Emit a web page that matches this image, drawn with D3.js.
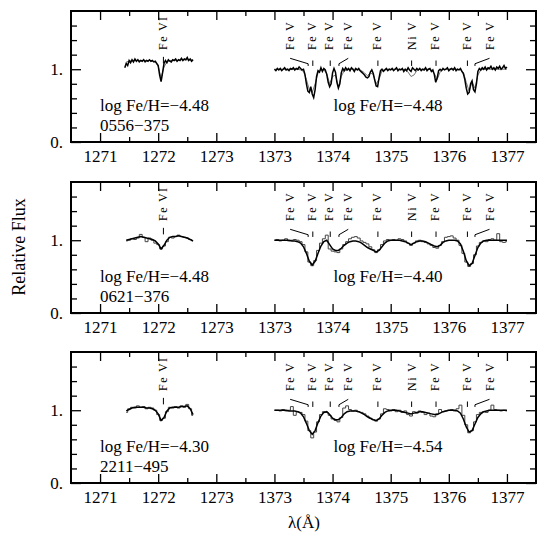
<!DOCTYPE html>
<html>
<head>
<meta charset="utf-8">
<script src="https://cdn.jsdelivr.net/npm/d3@7"></script>
<style>
  body { margin: 0; background: #fff; }
  svg text { font-family: "Liberation Serif", "Times New Roman", serif; fill: #000; }
</style>
</head>
<body>
<svg width="537" height="533"></svg>
<script>
const svg = d3.select("svg");

// ---- data ----
const stars = ["0556\u2212375", "0621\u2212376", "2211\u2212495"];
const abundLeft = ["\u22124.48", "\u22124.48", "\u22124.30"];
const abundRight = ["\u22124.48", "\u22124.40", "\u22124.54"];

const tickLabels = ["1271", "1272", "1273", "1373", "1374", "1375", "1376", "1377"];

// line identifications (wavelength of line, where its label sits, ion)
const lineLam = [1373.58, 1373.66, 1373.96, 1374.11, 1374.78, 1375.36, 1375.78, 1376.32, 1376.45, 1272.09];
const labelLam = [1373.27, 1373.65, 1373.94, 1374.27, 1374.77, 1375.36, 1375.77, 1376.32, 1376.70, 1272.09];
const lineIon = ["Fe V", "Fe V", "Fe V", "Fe V", "Fe V", "Ni V", "Fe V", "Fe V", "Fe V", "Fe VI"];

// wavelength grids
const lamLeftFine = d3.range(48).map(i => 1271.425 + i * 0.025);
const lamLeft = d3.range(24).map(i => 1271.45 + i * 0.05);
const lamRightFine = d3.range(161).map(i => 1373 + i * 0.025);
const lamRight = d3.range(81).map(i => 1373 + i * 0.05);

// 0556-375
const obs1Left = [1.02,1.08,1.05,1.12,1.09,1.13,1.10,1.14,1.11,1.13,1.10,1.12,1.11,1.13,1.10,1.12,1.11,1.13,1.11,1.12,1.10,1.11,1.08,
  1.05,0.92,0.83,0.95,1.08,1.12,1.09,1.13,1.11,1.10,1.13,1.12,1.14,1.11,1.13,1.12,1.15,1.12,1.14,1.13,1.16,1.12,1.14,1.11,1.13];
const mod1Left = [1.10,1.11,1.12,1.12,1.12,1.12,1.12,1.12,1.12,1.11,1.10,1.04,0.88,1.03,1.10,1.12,1.12,1.12,1.12,1.13,1.13,1.13,1.13,1.13];
const obs1Right = [
  1.00,0.98,1.01,0.99,1.01,0.98,1.00,1.02,0.99,1.00,0.98,1.01,1.00,1.02,0.99,1.01,1.00,1.03,1.01,0.99,
  1.00,0.93,0.80,0.70,0.68,0.76,0.66,0.61,0.72,0.90,0.98,0.96,1.02,0.97,1.01,0.99,0.93,0.82,0.76,0.80,
  0.95,1.01,0.96,0.82,0.74,0.80,0.95,1.01,0.98,1.02,0.99,1.01,0.98,1.02,1.00,0.97,1.01,0.99,1.01,0.98,
  0.96,0.94,0.92,0.89,0.88,0.90,0.96,0.99,0.94,0.85,0.77,0.76,0.88,0.98,1.00,0.97,0.99,1.01,0.98,1.00,
  0.99,1.01,0.98,1.00,1.02,0.98,1.00,0.99,1.01,0.97,1.00,0.98,1.02,0.99,0.97,1.02,1.00,0.98,1.01,0.99,
  1.01,0.98,1.00,0.99,1.02,0.98,1.00,1.01,0.97,0.99,0.93,0.82,0.88,0.98,1.00,0.98,1.01,0.99,1.00,1.02,
  0.98,1.00,1.01,0.99,1.02,0.98,1.00,0.99,1.01,0.97,0.94,0.86,0.74,0.66,0.68,0.80,0.84,0.72,0.69,0.80,
  0.97,1.01,0.99,1.02,1.00,1.03,0.99,1.02,1.01,1.04,1.00,1.02,0.99,1.03,1.01,1.04,1.00,1.02,1.05,1.01,1.03];
const mod1Right = [
  1.00,1.00,1.00,1.00,1.00,1.00,1.00,1.00,1.00,0.99,0.97,0.86,0.72,0.68,0.80,0.95,0.99,0.99,0.94,0.80,
  0.90,0.92,0.76,0.90,0.98,0.99,1.00,1.00,1.00,0.99,0.98,0.95,0.91,0.95,0.93,0.80,0.86,0.98,1.00,1.00,
  1.00,1.00,1.00,1.00,1.00,0.99,0.96,0.90,0.92,0.98,1.00,1.00,1.00,1.00,0.99,0.94,0.86,0.96,1.00,1.00,
  1.00,1.00,1.00,1.00,0.99,0.96,0.82,0.70,0.82,0.74,0.92,0.99,1.00,1.00,1.00,1.00,1.00,1.00,1.00,1.00,1.00];

// 0621-376
const obs2Left = [0.99,1.00,1.02,1.01,1.03,1.08,1.04,0.98,1.03,1.00,0.96,0.94,0.88,0.92,0.98,1.04,1.03,1.05,1.07,1.05,1.04,1.03,1.01,0.99];
const mod2Left = [1.00,1.01,1.02,1.03,1.04,1.05,1.04,1.03,1.02,1.01,0.99,0.95,0.88,0.93,1.00,1.04,1.05,1.05,1.06,1.05,1.04,1.03,1.01,0.99];
const obs2Right = [
  1.00,1.01,0.99,1.00,1.02,0.99,1.00,1.01,1.00,0.98,0.94,0.84,0.70,0.65,0.72,0.86,0.96,1.02,1.07,0.88,
  0.85,0.84,0.83,0.88,0.94,0.98,1.02,1.04,1.05,1.03,0.99,0.97,0.95,0.91,0.87,0.83,0.87,0.94,0.99,1.01,
  1.00,1.01,1.00,1.02,1.01,0.99,0.96,0.93,0.96,0.99,1.00,0.98,0.97,0.95,0.93,0.90,0.89,0.93,0.98,1.04,
  1.05,1.06,1.03,1.00,0.93,0.82,0.70,0.64,0.68,0.80,0.92,0.97,0.99,0.98,1.01,1.02,1.00,1.09,0.98,0.97,0.98];
const mod2Right = [
  1.00,1.00,1.00,1.00,1.00,1.00,0.99,0.99,0.98,0.96,0.91,0.82,0.71,0.66,0.71,0.82,0.92,0.98,1.00,0.94,
  0.88,0.86,0.86,0.89,0.93,0.96,0.98,0.99,0.99,0.98,0.96,0.93,0.90,0.88,0.86,0.84,0.86,0.91,0.96,0.99,
  1.00,1.00,1.00,1.00,0.99,0.98,0.96,0.94,0.96,0.98,0.99,0.99,0.98,0.96,0.94,0.92,0.91,0.93,0.97,0.99,
  1.00,1.00,1.00,0.99,0.95,0.85,0.72,0.65,0.68,0.79,0.90,0.96,0.99,1.00,1.00,1.00,1.00,1.00,1.00,1.00,1.00];

// 2211-495
const obs3Left = [0.97,1.02,1.04,1.03,1.06,1.04,1.05,1.02,1.04,1.03,1.00,0.94,0.86,0.89,0.98,1.04,1.03,1.05,1.03,1.06,1.04,1.08,1.02,0.93];
const mod3Left = [0.99,1.01,1.03,1.04,1.04,1.04,1.04,1.03,1.03,1.02,1.00,0.95,0.86,0.90,0.99,1.03,1.04,1.04,1.04,1.05,1.05,1.06,1.02,0.94];
const obs3Right = [
  1.00,1.00,0.99,1.01,0.99,1.00,1.05,0.93,0.98,0.97,0.94,0.85,0.72,0.62,0.70,0.84,0.94,0.98,0.97,0.93,
  0.88,0.86,0.84,0.90,1.03,1.06,1.01,0.99,1.00,0.98,0.97,0.95,0.92,0.89,0.87,0.85,0.88,0.95,1.02,1.01,
  0.99,1.01,0.98,1.00,0.97,0.99,0.94,0.92,0.98,0.96,0.99,0.97,0.94,0.96,0.92,0.91,0.95,1.01,0.98,0.99,
  1.00,1.01,0.99,1.02,1.07,0.93,0.80,0.69,0.72,0.84,0.94,0.97,0.98,0.97,1.00,1.07,1.01,1.00,0.99,1.00,0.99];
const mod3Right = [
  1.00,1.00,1.00,1.00,1.00,0.99,0.99,0.99,0.98,0.96,0.91,0.82,0.72,0.67,0.72,0.83,0.92,0.97,0.98,0.94,
  0.89,0.87,0.87,0.90,0.95,0.98,0.99,0.99,0.99,0.98,0.96,0.94,0.91,0.89,0.87,0.86,0.88,0.93,0.97,0.99,
  1.00,1.00,1.00,0.99,0.98,0.97,0.96,0.95,0.96,0.97,0.98,0.98,0.97,0.96,0.95,0.94,0.94,0.96,0.98,0.99,
  1.00,1.00,1.00,0.99,0.96,0.88,0.77,0.70,0.72,0.81,0.90,0.95,0.98,0.99,1.00,1.00,1.00,1.00,1.00,1.00,1.00];

const panels = [
  { star: stars[0], aL: abundLeft[0], aR: abundRight[0], hist: false,
    obsL: [lamLeftFine, obs1Left], modL: [lamLeft, mod1Left], obsR: [lamRightFine, obs1Right], modR: [lamRight, mod1Right] },
  { star: stars[1], aL: abundLeft[1], aR: abundRight[1], hist: true,
    obsL: [lamLeft, obs2Left], modL: [lamLeft, mod2Left], obsR: [lamRight, obs2Right], modR: [lamRight, mod2Right] },
  { star: stars[2], aL: abundLeft[2], aR: abundRight[2], hist: true,
    obsL: [lamLeft, obs3Left], modL: [lamLeft, mod3Left], obsR: [lamRight, obs3Right], modR: [lamRight, mod3Right] }
];

// ---- layout ----
const left = 71, right = 536;
const panelTop = [11, 182, 352];
const panelH = 131;

// broken axis: 1271-1273 and 1373-1377 share one unit spacing
function pos(lam) { return lam < 1300 ? lam - 1271 : lam - 1370; }

const x = d3.scaleLinear().domain([-0.5, 7.5]).range([left, right]);
const xMajor = d3.range(8);
const xMinor = d3.range(7).map(i => i + 0.5);
const yMajor = [0, 1];
const yMinor = [0.2, 0.4, 0.6, 0.8, 1.2, 1.4, 1.6];

function styleAxis(g) {
  g.select(".domain").remove();
  g.selectAll("line").attr("stroke-width", 1.3);
  g.attr("font-family", "Liberation Serif").attr("font-size", 17);
}

panels.forEach(function (p, k) {
  const top = panelTop[k], bottom = top + panelH;
  const y = d3.scaleLinear().domain([0, 1.8]).range([bottom, top]);
  const g = svg.append("g");

  // x ticks, bottom (labels) and top
  g.append("g").attr("transform", `translate(0,${bottom})`)
    .call(d3.axisBottom(x).tickValues(xMajor).tickSizeInner(-9).tickSizeOuter(0).tickPadding(8)
      .tickFormat((d, i) => tickLabels[i])).call(styleAxis);
  g.append("g").attr("transform", `translate(0,${bottom})`)
    .call(d3.axisBottom(x).tickValues(xMinor).tickSizeInner(-5).tickSizeOuter(0).tickFormat("")).call(styleAxis);
  g.append("g").attr("transform", `translate(0,${top})`)
    .call(d3.axisTop(x).tickValues(xMajor).tickSizeInner(-9).tickSizeOuter(0).tickFormat("")).call(styleAxis);
  g.append("g").attr("transform", `translate(0,${top})`)
    .call(d3.axisTop(x).tickValues(xMinor).tickSizeInner(-5).tickSizeOuter(0).tickFormat("")).call(styleAxis);

  // y ticks, left (labels) and right
  g.append("g").attr("transform", `translate(${left},0)`)
    .call(d3.axisLeft(y).tickValues(yMajor).tickSizeInner(-10).tickSizeOuter(0).tickPadding(8)
      .tickFormat(d => d + ".")).call(styleAxis);
  g.append("g").attr("transform", `translate(${left},0)`)
    .call(d3.axisLeft(y).tickValues(yMinor).tickSizeInner(-6).tickSizeOuter(0).tickFormat("")).call(styleAxis);
  g.append("g").attr("transform", `translate(${right},0)`)
    .call(d3.axisRight(y).tickValues(yMajor).tickSizeInner(-10).tickSizeOuter(0).tickFormat("")).call(styleAxis);
  g.append("g").attr("transform", `translate(${right},0)`)
    .call(d3.axisRight(y).tickValues(yMinor).tickSizeInner(-6).tickSizeOuter(0).tickFormat("")).call(styleAxis);

  // frame
  g.append("rect")
    .attr("x", left).attr("y", top)
    .attr("width", right - left).attr("height", panelH)
    .attr("fill", "none").attr("stroke", "#000").attr("stroke-width", 2);

  // spectra
  const lineFn = d3.line().x(d => x(pos(d[0]))).y(d => y(d[1]));
  const histFn = d3.line().curve(d3.curveStep).x(d => x(pos(d[0]))).y(d => y(d[1]));
  const zip = s => s[0].map((l, i) => [l, s[1][i]]);

  if (p.hist) {
    [p.obsL, p.obsR].forEach(s => g.append("path").attr("d", histFn(zip(s)))
      .attr("fill", "none").attr("stroke", "#444").attr("stroke-width", 1));
    [p.modL, p.modR].forEach(s => g.append("path").attr("d", lineFn(zip(s)))
      .attr("fill", "none").attr("stroke", "#000").attr("stroke-width", 1.5));
  } else {
    [p.modL, p.modR].forEach(s => g.append("path").attr("d", lineFn(zip(s)))
      .attr("fill", "none").attr("stroke", "#777").attr("stroke-width", 1));
    [p.obsL, p.obsR].forEach(s => g.append("path").attr("d", lineFn(zip(s)))
      .attr("fill", "none").attr("stroke", "#000").attr("stroke-width", 1.5));
  }

  // line identifications
  lineLam.forEach(function (lam, i) {
    const lx = x(pos(lam)), tx = x(pos(labelLam[i]));
    const isLeft = lam < 1300;
    if (Math.abs(lx - tx) < 3) {
      g.append("line").attr("x1", lx).attr("x2", lx)
        .attr("y1", y(isLeft ? 1.17 : 1.12)).attr("y2", y(isLeft ? 1.08 : 1.045))
        .attr("stroke", "#000").attr("stroke-width", 1);
    } else {
      g.append("polyline")
        .attr("points", [[tx, y(1.15)], [lx, y(1.075)], [lx, y(1.045)]].join(" "))
        .attr("fill", "none").attr("stroke", "#000").attr("stroke-width", 1);
    }
    g.append("text")
      .attr("transform", `translate(${tx + 4},${y(1.265)}) rotate(-90)`)
      .attr("font-size", 12).attr("letter-spacing", 1.4)
      .text(lineIon[i]);
  });

  // annotations
  g.append("text").attr("x", x(0)).attr("y", top + 100)
    .attr("font-size", 17).text("log Fe/H=" + p.aL);
  g.append("text").attr("x", x(0)).attr("y", top + 120)
    .attr("font-size", 17).text(p.star);
  g.append("text").attr("x", x(4) + 1).attr("y", top + 100)
    .attr("font-size", 17).text("log Fe/H=" + p.aR);
});

// axis titles
svg.append("text")
  .attr("transform", "translate(25,247) rotate(-90)")
  .attr("text-anchor", "middle").attr("font-size", 18)
  .text("Relative Flux");
svg.append("text")
  .attr("x", 304).attr("y", 528)
  .attr("text-anchor", "middle").attr("font-size", 17)
  .text("\u03bb(\u00c5)");
</script>
</body>
</html>
